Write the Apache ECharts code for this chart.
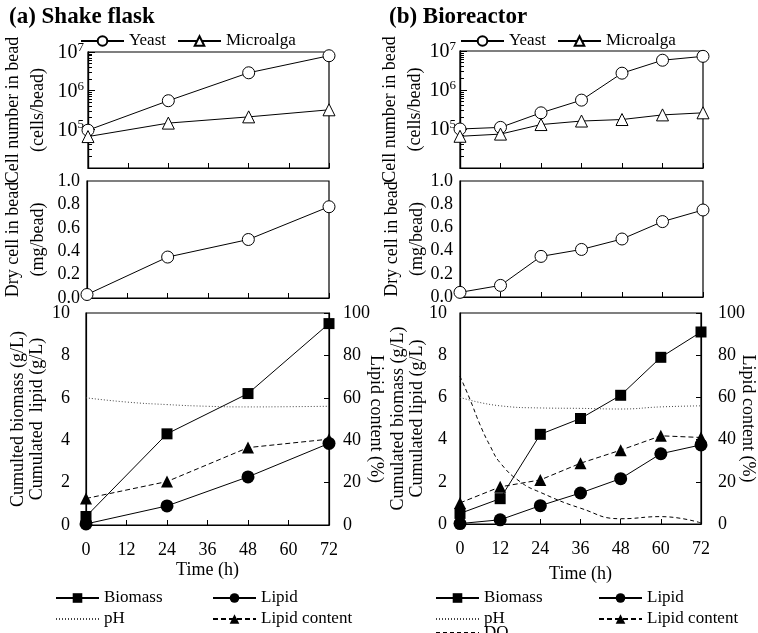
<!DOCTYPE html>
<html>
<head>
<meta charset="utf-8">
<script src="https://cdn.jsdelivr.net/npm/echarts@6/dist/echarts.min.js"></script>
<style>html,body{margin:0;background:#fff}#chart{width:758px;height:633px}</style>
</head>
<body>
<div id="chart"></div>
<script>
// sampling times (h)
var timesA = [0, 24, 48, 72];
var timesB = [0, 12, 24, 36, 48, 60, 72];
var timesDO = [0, 3, 6, 9, 12, 18, 24, 36, 48, 60, 72];

// (a) shake flask
var yeastA = [9.5e4, 5.5e5, 2.9e6, 8.0e6];
var algaA = [6.5e4, 1.45e5, 2.1e5, 3.2e5];
var dryA = [0.03, 0.35, 0.50, 0.78];
var biomassA = [0.4, 4.3, 6.2, 9.5];
var lipidA = [0.05, 0.9, 2.27, 3.85];
var contentA = [12.5, 20.5, 36.5, 40.5];
var phA = [6.0, 5.8, 5.68, 5.6, 5.57, 5.58, 5.6];

// (b) bioreactor
var yeastB = [1.0e5, 1.1e5, 2.6e5, 5.5e5, 2.7e6, 5.8e6, 7.3e6];
var algaB = [6.5e4, 7.4e4, 1.3e5, 1.6e5, 1.75e5, 2.3e5, 2.6e5];
var dryB = [0.04, 0.10, 0.35, 0.41, 0.50, 0.65, 0.75];
var biomassB = [0.5, 1.2, 4.25, 5.0, 6.1, 7.9, 9.1];
var lipidB = [0.02, 0.2, 0.87, 1.47, 2.15, 3.33, 3.75];
var contentB = [10, 17.6, 20.9, 28.8, 35, 41.8, 41];
var phB = [6.0, 5.6, 5.5, 5.48, 5.45, 5.55, 5.6];
var doB = [7.0, 5.9, 4.7, 3.7, 2.9, 2.0, 1.5, 0.75, 0.25, 0.35, 0.05];

// minor ticks of the log axis (log10 of 2..9 x 10^n)
var minorLog = [];
for (var n = 4; n < 7; n++) {
    for (var k = 2; k < 10; k++) minorLog.push(n + Math.log10(k));
}

var FONT = 'Liberation Serif';
var black = '#000';

function pairs(xs, ys) {
    return xs.map(function (x, i) { return [x, ys[i]]; });
}

var myChart = echarts.init(document.getElementById('chart'));

var grids = [
    {left: 86, top: 52, width: 243, height: 116},
    {left: 86, top: 181, width: 243, height: 117},
    {left: 86, top: 313, width: 243, height: 212},
    {left: 460, top: 51, width: 243, height: 117},
    {left: 460, top: 181, width: 243, height: 116},
    {left: 460, top: 313, width: 243, height: 211}
].map(function (g) {
    g.show = true; g.borderColor = black; g.borderWidth = 1.2; g.backgroundColor = 'transparent';
    return g;
});

var xAxes = grids.map(function (g, i) {
    var bottom = (i === 2 || i === 5);
    return {
        type: 'value', gridIndex: i, min: 0, max: 72, interval: 12,
        name: bottom ? 'Time (h)' : '', nameLocation: 'middle', nameGap: i === 2 ? 36 : 41,
        nameTextStyle: {fontFamily: FONT, fontSize: 18, color: black},
        axisLine: {lineStyle: {color: black, width: 1.2}},
        axisTick: {inside: true, length: 5, lineStyle: {color: black}},
        axisLabel: {show: bottom, margin: 16, fontFamily: FONT, fontSize: 18, color: black},
        splitLine: {show: false}
    };
});

function logAxis(grid, gap) {
    return {
        type: 'log', logBase: 10, gridIndex: grid, min: 1e4, max: 1e7, position: 'left',
        name: 'Cell number in bead\n(cells/bead)', nameLocation: 'middle', nameGap: gap,
        nameMoveOverlap: false,
        nameTextStyle: {fontFamily: FONT, fontSize: 18, color: black, lineHeight: 25},
        axisLine: {lineStyle: {color: black, width: 1.2}},
        axisTick: {inside: true, length: 7, lineStyle: {color: black}},
        axisLabel: {
            margin: 4, color: black,
            formatter: function (v) {
                var e = Math.round(Math.log10(v));
                return e < 5 ? '' : '{b|10}{s|' + e + '}';
            },
            rich: {
                b: {fontFamily: FONT, fontSize: 20, color: black, verticalAlign: 'bottom'},
                s: {fontFamily: FONT, fontSize: 13, color: black, verticalAlign: 'bottom', padding: [0, 0, 9, 0]}
            }
        },
        splitLine: {show: false}
    };
}
function minorAxis(grid) {
    return {
        type: 'value', gridIndex: grid, min: 4, max: 7, position: 'left',
        axisLine: {show: true, lineStyle: {color: black, width: 1.2}},
        axisTick: {show: true, inside: true, length: 4, customValues: minorLog, lineStyle: {color: black, width: 1}},
        axisLabel: {show: false}, splitLine: {show: false}
    };
}
function dryAxis(grid, gap) {
    return {
        type: 'value', gridIndex: grid, min: 0, max: 1, interval: 0.2,
        name: 'Dry cell in bead\n(mg/bead)', nameLocation: 'middle', nameGap: gap,
        nameMoveOverlap: false,
        nameTextStyle: {fontFamily: FONT, fontSize: 18, color: black, lineHeight: 25},
        axisLine: {lineStyle: {color: black, width: 1.2}},
        axisTick: {show: false},
        axisLabel: {margin: 7, fontFamily: FONT, fontSize: 18, color: black,
            formatter: function (v) { return v.toFixed(1); }},
        splitLine: {show: false}
    };
}
function massAxis(grid, name, gap, margin) {
    return {
        type: 'value', gridIndex: grid, min: 0, max: 10, interval: 2,
        name: name, nameLocation: 'middle', nameGap: gap, nameMoveOverlap: false,
        nameTextStyle: {fontFamily: FONT, fontSize: 18, color: black, lineHeight: 19},
        axisLine: {lineStyle: {color: black, width: 1.2}},
        axisTick: {show: false},
        axisLabel: {margin: margin, fontFamily: FONT, fontSize: 18, color: black},
        splitLine: {show: false}
    };
}
function contentAxis(grid, margin, gap) {
    return {
        type: 'value', gridIndex: grid, min: 0, max: 100, interval: 20, position: 'right',
        name: 'Lipid content (%)', nameLocation: 'middle', nameGap: gap, nameRotate: -90,
        nameMoveOverlap: false,
        nameTextStyle: {fontFamily: FONT, fontSize: 18, color: black},
        axisLine: {lineStyle: {color: black, width: 1.2}},
        axisTick: {inside: true, length: 5, lineStyle: {color: black}},
        axisLabel: {margin: margin, fontFamily: FONT, fontSize: 18, color: black},
        splitLine: {show: false}
    };
}

var yAxes = [
    logAxis(0, 37), minorAxis(0),
    dryAxis(1, 36),
    massAxis(2, 'Cumulted biomass (g/L)\nCumulated  lipid (g/L)', 39, 16), contentAxis(2, 14, 38),
    logAxis(3, 32), minorAxis(3),
    dryAxis(4, 30),
    massAxis(5, 'Cumulated biomass (g/L)\nCumulated lipid (g/L)', 33, 13), contentAxis(5, 17, 38)
];

var openSym = {color: '#fff', borderColor: black, borderWidth: 1};
var lineBlack = {color: black, width: 1};

function openLine(name, xs, ys, xi, yi, symbol) {
    return {
        name: name, type: 'line', xAxisIndex: xi, yAxisIndex: yi,
        data: pairs(xs, ys), symbol: symbol, symbolSize: 12,
        itemStyle: openSym, lineStyle: lineBlack, z: 3
    };
}
function bottomSeries(xi, yL, yR, xs, biomass, lipid, content, ph) {
    return [
        {name: 'pH', type: 'line', xAxisIndex: xi, yAxisIndex: yL, data: pairs(timesB, ph),
            smooth: true, symbol: 'none', itemStyle: {color: '#444'},
            lineStyle: {color: '#444', width: 1, type: [1, 2]}},
        {name: 'Biomass', type: 'line', xAxisIndex: xi, yAxisIndex: yL, data: pairs(xs, biomass),
            symbol: 'rect', symbolSize: 11, itemStyle: {color: black}, lineStyle: lineBlack, z: 4},
        {name: 'Lipid', type: 'line', xAxisIndex: xi, yAxisIndex: yL, data: pairs(xs, lipid),
            symbol: 'circle', symbolSize: 13, itemStyle: {color: black}, lineStyle: lineBlack, z: 4},
        {name: 'Lipid content', type: 'line', xAxisIndex: xi, yAxisIndex: yR, data: pairs(xs, content),
            symbol: 'triangle', symbolSize: 12, itemStyle: {color: black},
            lineStyle: {color: black, width: 1, type: [5, 3]}, z: 4}
    ];
}

var series = [
    openLine('Yeast', timesA, yeastA, 0, 0, 'circle'),
    openLine('Microalga', timesA, algaA, 0, 0, 'triangle'),
    openLine('Dry cell (a)', timesA, dryA, 1, 2, 'circle'),
    openLine('Yeast', timesB, yeastB, 3, 5, 'circle'),
    openLine('Microalga', timesB, algaB, 3, 5, 'triangle'),
    openLine('Dry cell (b)', timesB, dryB, 4, 7, 'circle')
];
series = series.concat(bottomSeries(2, 3, 4, timesA, biomassA, lipidA, contentA, phA));
series = series.concat(bottomSeries(5, 8, 9, timesB, biomassB, lipidB, contentB, phB));
series.push({name: 'DO', type: 'line', xAxisIndex: 5, yAxisIndex: 8, data: pairs(timesDO, doB),
    smooth: true, symbol: 'none', itemStyle: {color: black},
    lineStyle: {color: black, width: 1, type: [4, 3]}});

// line-only legend entries: hide the symbol in the icon
var noMark = {itemStyle: {opacity: 0}};
function item(name) {
    return (name === 'pH' || name === 'DO') ? Object.assign({name: name}, noMark) : name;
}

function legend(data, left, top, orient) {
    return {
        data: data.map(item), left: left, top: top, orient: orient, padding: 0,
        itemWidth: 43, itemHeight: 12, itemGap: orient === 'vertical' ? 1 : 11,
        selectedMode: false,
        textStyle: {fontFamily: FONT, fontSize: 17, color: black, lineHeight: 20}
    };
}

var option = {
    backgroundColor: '#fff',
    animation: false,
    title: [
        {text: '(a) Shake flask', left: 4, top: 1, textStyle: {fontFamily: FONT, fontSize: 23, fontWeight: 'bold', color: black}},
        {text: '(b) Bioreactor', left: 384, top: 1, textStyle: {fontFamily: FONT, fontSize: 23, fontWeight: 'bold', color: black}}
    ],
    legend: [
        legend(['Yeast', 'Microalga'], 80, 31, 'horizontal'),
        legend(['Yeast', 'Microalga'], 460, 31, 'horizontal'),
        legend(['Biomass', 'pH'], 55, 588, 'vertical'),
        legend(['Lipid', 'Lipid content'], 212, 588, 'vertical'),
        legend(['Biomass', 'pH'], 435, 588, 'vertical'),
        legend(['DO'], 435, 623, 'horizontal'),
        legend(['Lipid', 'Lipid content'], 598, 588, 'vertical')
    ],
    grid: grids,
    xAxis: xAxes,
    yAxis: yAxes,
    series: series
};

myChart.setOption(option);
</script>
</body>
</html>
